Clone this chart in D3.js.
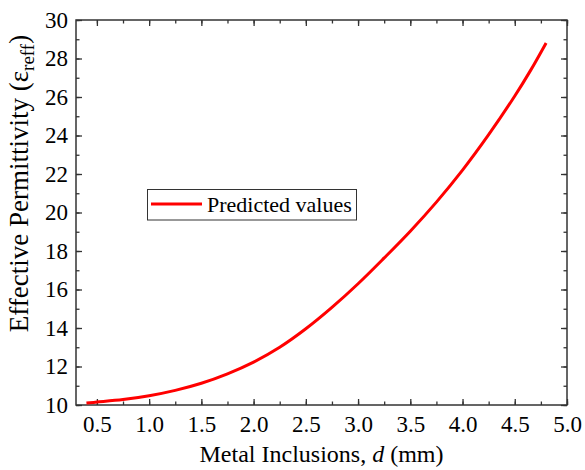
<!DOCTYPE html>
<html>
<head>
<meta charset="utf-8">
<script src="https://cdn.jsdelivr.net/npm/d3@7"></script>
<style>
  html, body { margin: 0; padding: 0; background: #fff; }
  svg text { font-family: "Liberation Serif", "Times New Roman", serif; fill: #000; }
</style>
</head>
<body>
<svg id="chart" width="585" height="470"></svg>
<script>
// Metal inclusion size d (mm) and predicted effective permittivity
const diameters = [0.4, 0.5, 0.75, 1.0, 1.25, 1.5, 1.75, 2.0, 2.25, 2.5, 2.75, 3.0, 3.25, 3.5, 3.75, 4.0, 4.25, 4.5, 4.65, 4.8];
const permittivity = [10.10, 10.15, 10.28, 10.48, 10.76, 11.13, 11.62, 12.23, 13.0, 13.96, 15.07, 16.3, 17.64, 19.03, 20.54, 22.2, 24.04, 26.05, 27.37, 28.81];
const xTicks = [0.5, 1.0, 1.5, 2.0, 2.5, 3.0, 3.5, 4.0, 4.5, 5.0];
const yTicks = [10, 12, 14, 16, 18, 20, 22, 24, 26, 28, 30];
const seriesName = "Predicted values";

const svg = d3.select("#chart");
const plotLeft = 76, plotRight = 567, plotTop = 20, plotBottom = 405;

const x = d3.scaleLinear().domain([0.3, 5.0]).range([plotLeft, plotRight]);
const y = d3.scaleLinear().domain([10, 30]).range([plotBottom, plotTop]);

const axisColor = "#333";
const xMinor = d3.range(0.5, 5.01, 0.25);
const yMinor = d3.range(10, 30.01, 1);

// Inward ticks on all four sides
function drawAxis(axis, transform, labels) {
  const g = svg.append("g").attr("transform", transform).call(axis);
  g.attr("font-family", null);
  g.select(".domain").remove();
  g.selectAll(".tick line").attr("stroke", axisColor).attr("stroke-width", 1.3);
  if (!labels) g.selectAll(".tick text").remove();
  return g;
}

// minor ticks
drawAxis(d3.axisBottom(x).tickValues(xMinor).tickSize(-3.5).tickFormat(""), `translate(0,${plotBottom})`, false);
drawAxis(d3.axisTop(x).tickValues(xMinor).tickSize(-3.5).tickFormat(""), `translate(0,${plotTop})`, false);
drawAxis(d3.axisLeft(y).tickValues(yMinor).tickSize(-3.5).tickFormat(""), `translate(${plotLeft},0)`, false);
drawAxis(d3.axisRight(y).tickValues(yMinor).tickSize(-3.5).tickFormat(""), `translate(${plotRight},0)`, false);

// major ticks with labels
const gx = drawAxis(d3.axisBottom(x).tickValues(xTicks).tickSize(-6).tickPadding(11).tickFormat(d3.format(".1f")), `translate(0,${plotBottom})`, true);
gx.attr("font-size", 23);
drawAxis(d3.axisTop(x).tickValues(xTicks).tickSize(-6).tickFormat(""), `translate(0,${plotTop})`, false);
const gy = drawAxis(d3.axisLeft(y).tickValues(yTicks).tickSize(-6).tickPadding(8).tickFormat(d3.format("d")), `translate(${plotLeft},0)`, true);
gy.attr("font-size", 23);
drawAxis(d3.axisRight(y).tickValues(yTicks).tickSize(-6).tickFormat(""), `translate(${plotRight},0)`, false);

// frame
svg.append("rect")
  .attr("x", plotLeft).attr("y", plotTop)
  .attr("width", plotRight - plotLeft).attr("height", plotBottom - plotTop)
  .attr("fill", "none").attr("stroke", axisColor).attr("stroke-width", 1.5);

// curve
const pts = diameters.map((d, i) => [d, permittivity[i]]);
svg.append("path")
  .datum(pts)
  .attr("fill", "none")
  .attr("stroke", "#ff0000")
  .attr("stroke-width", 3)
  .attr("d", d3.line().x(d => x(d[0])).y(d => y(d[1])).curve(d3.curveCatmullRom));

// legend
const lg = svg.append("g");
lg.append("rect").attr("x", 147.5).attr("y", 189.5).attr("width", 209).attr("height", 30.5)
  .attr("fill", "#fff").attr("stroke", axisColor).attr("stroke-width", 1);
lg.append("line").attr("x1", 151).attr("x2", 202).attr("y1", 204).attr("y2", 204)
  .attr("stroke", "#ff0000").attr("stroke-width", 3);
lg.append("text").attr("x", 207).attr("y", 212).attr("font-size", 22).text(seriesName);

// axis titles
const xt = svg.append("text").attr("x", 321.5).attr("y", 462).attr("text-anchor", "middle").attr("font-size", 24);
xt.append("tspan").text("Metal Inclusions, ");
xt.append("tspan").attr("font-style", "italic").text("d");
xt.append("tspan").text(" (mm)");

const yt = svg.append("text")
  .attr("transform", "translate(28,183.5) rotate(-90)")
  .attr("text-anchor", "middle").attr("font-size", 27);
yt.append("tspan").text("Effective Permittivity (ε");
yt.append("tspan").attr("font-size", 19).attr("dy", 6).text("reff");
yt.append("tspan").attr("dy", -6).text(")");
</script>
</body>
</html>
